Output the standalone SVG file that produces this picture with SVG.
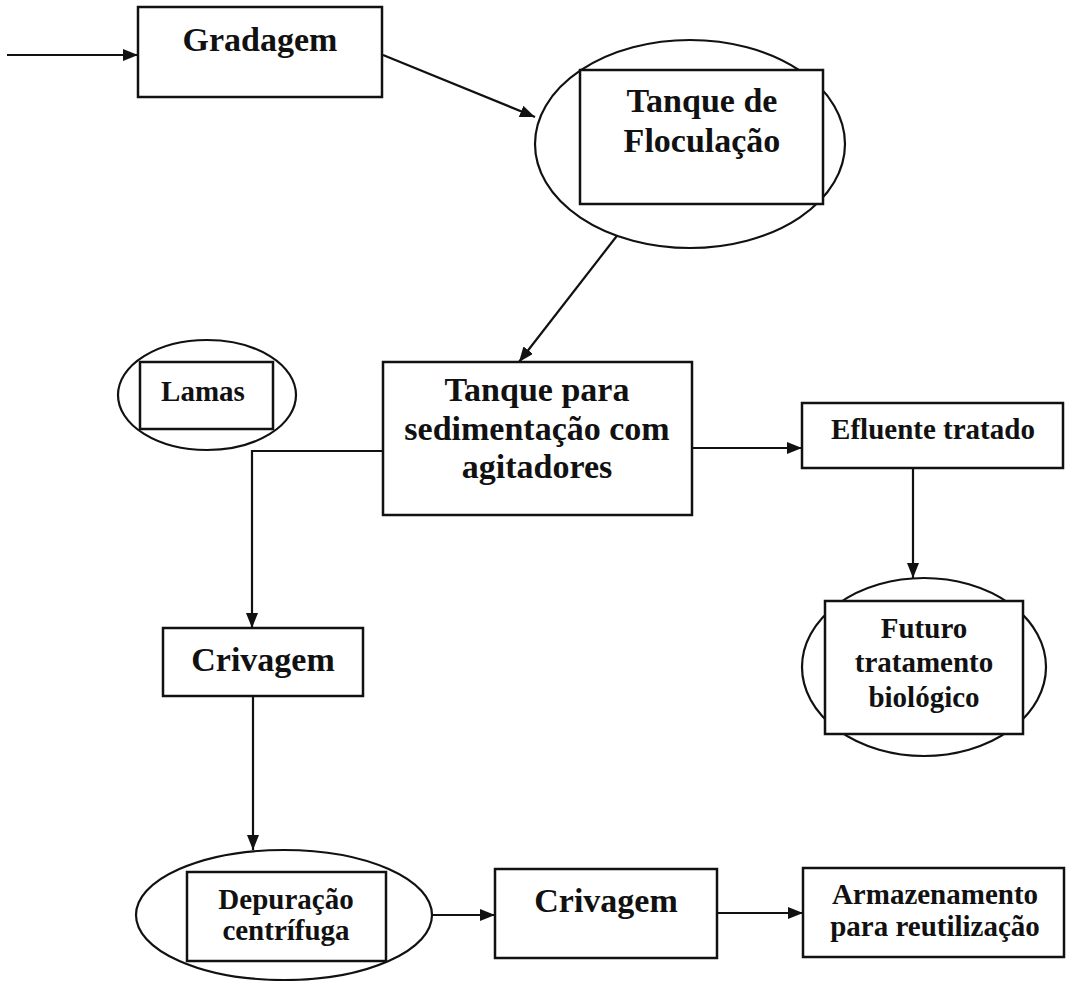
<svg xmlns="http://www.w3.org/2000/svg" width="1067" height="981" viewBox="0 0 1067 981">
  <style>
    .box { fill: #ffffff; stroke: #111111; stroke-width: 2.5; }
    .shell { fill: #ffffff; stroke: #111111; stroke-width: 2.2; }
    .flow { fill: none; stroke: #111111; stroke-width: 2.2; }
    .lbl { font-family: "Liberation Serif", "Times New Roman", serif; font-weight: bold; fill: #111111; text-anchor: middle; }
    .big { font-size: 34px; }
    .mid { font-size: 29px; }
  </style>
  <defs>
    <marker id="arrow" viewBox="0 0 15 12" refX="15" refY="6" markerWidth="15" markerHeight="12" markerUnits="userSpaceOnUse" orient="auto">
      <path d="M0,0 L15,6 L0,12 Z" fill="#111111"/>
    </marker>
  </defs>
  <rect width="1067" height="981" fill="#ffffff"/>

  <!-- flow lines -->
  <g id="connectors">
    <line class="flow" x1="7" y1="55" x2="138" y2="55" marker-end="url(#arrow)"/>
    <line class="flow" x1="383" y1="55" x2="535" y2="117" marker-end="url(#arrow)"/>
    <line class="flow" x1="623" y1="228" x2="519" y2="362" marker-end="url(#arrow)"/>
    <polyline class="flow" points="383,451 252,451 252,628" marker-end="url(#arrow)"/>
    <line class="flow" x1="692" y1="448" x2="802" y2="448" marker-end="url(#arrow)"/>
    <line class="flow" x1="913" y1="468" x2="913" y2="578" marker-end="url(#arrow)"/>
    <line class="flow" x1="253" y1="696" x2="253" y2="850" marker-end="url(#arrow)"/>
    <line class="flow" x1="432" y1="915" x2="495" y2="915" marker-end="url(#arrow)"/>
    <line class="flow" x1="717" y1="913" x2="803" y2="913" marker-end="url(#arrow)"/>
  </g>

  <g id="gradagem">
    <rect class="box" x="138" y="7" width="244" height="90"/>
    <text class="lbl big" x="260" y="51">Gradagem</text>
  </g>

  <g id="floculacao">
    <ellipse class="shell" cx="690" cy="144" rx="155" ry="104"/>
    <rect class="box" x="580" y="70" width="243" height="134"/>
    <text class="lbl big" x="702" y="112">Tanque de</text>
    <text class="lbl big" x="702" y="152">Floculação</text>
  </g>

  <g id="lamas">
    <ellipse class="shell" cx="207" cy="395" rx="89" ry="55"/>
    <rect class="box" x="140" y="362" width="133" height="67"/>
    <text class="lbl mid" x="203" y="401">Lamas</text>
  </g>

  <g id="sedimentacao">
    <rect class="box" x="383" y="362" width="309" height="153"/>
    <text class="lbl big" x="537" y="401">Tanque para</text>
    <text class="lbl big" x="537" y="440">sedimentação com</text>
    <text class="lbl big" x="537" y="478">agitadores</text>
  </g>

  <g id="efluente">
    <rect class="box" x="802" y="403" width="261" height="65"/>
    <text class="lbl mid" x="933" y="439">Efluente tratado</text>
  </g>

  <g id="biologico">
    <ellipse class="shell" cx="924" cy="667" rx="122" ry="89"/>
    <rect class="box" x="825" y="601" width="198" height="133"/>
    <text class="lbl mid" x="924" y="638">Futuro</text>
    <text class="lbl mid" x="924" y="672">tratamento</text>
    <text class="lbl mid" x="924" y="707">biológico</text>
  </g>

  <g id="crivagem1">
    <rect class="box" x="163" y="628" width="200" height="68"/>
    <text class="lbl big" x="263" y="671">Crivagem</text>
  </g>

  <g id="depuracao">
    <ellipse class="shell" cx="284" cy="915" rx="148" ry="65"/>
    <rect class="box" x="187" y="872" width="199" height="89"/>
    <text class="lbl mid" x="286" y="909">Depuração</text>
    <text class="lbl mid" x="286" y="940">centrífuga</text>
  </g>

  <g id="crivagem2">
    <rect class="box" x="495" y="869" width="222" height="89"/>
    <text class="lbl big" x="606" y="912">Crivagem</text>
  </g>

  <g id="armazenamento">
    <rect class="box" x="803" y="868" width="261" height="89"/>
    <text class="lbl mid" x="935" y="904">Armazenamento</text>
    <text class="lbl mid" x="935" y="936">para reutilização</text>
  </g>
</svg>
